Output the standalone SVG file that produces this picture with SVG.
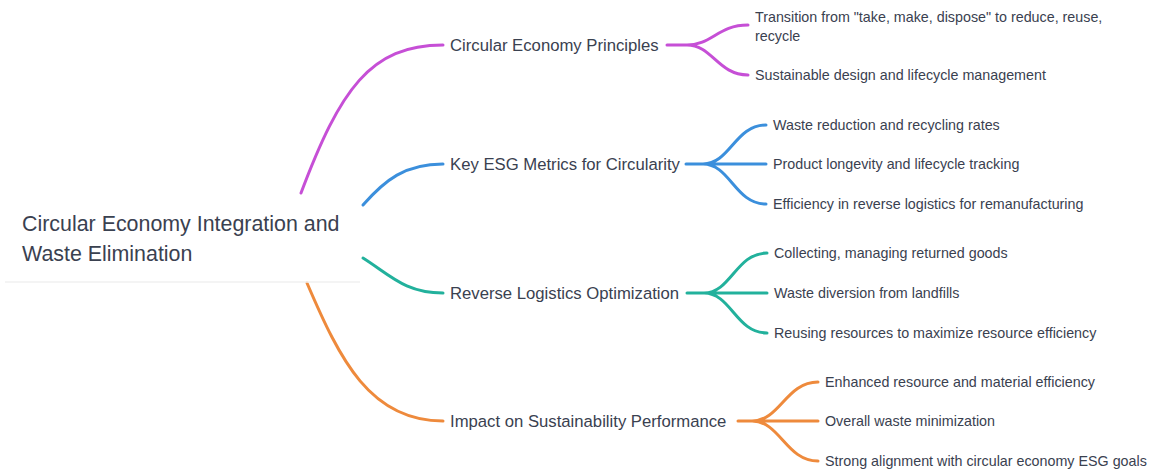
<svg xmlns="http://www.w3.org/2000/svg" width="1151" height="472" viewBox="0 0 1151 472">
<style>
.t{font-family:"Liberation Sans",Arial,sans-serif;fill:#3a4150}
.root{font-size:21.4px}
.br{font-size:16.7px}
.lf{font-size:14.3px}
.c{fill:none;stroke-width:3;stroke-linecap:round}
.p{stroke:#c64fd6}.b{stroke:#3b8fdc}.g{stroke:#22b19c}.o{stroke:#ee8a3c}
</style>
<rect width="1151" height="472" fill="#ffffff"/>
<g id="connectors">
<path class="c p" d="M301,193 C340,90 370,45 443,45"/>
<path class="c b" d="M363,205 C385,180 405,164 443,164"/>
<path class="c g" d="M363,258 C390,275 405,293 443,293"/>
<path class="c o" d="M307,283 C340,360 370,421 443,421"/>
<path class="c p" d="M667,45 L687,45 C712,45 718,25 748,25 M687,45 C712,45 718,75 748,75"/>
<path class="c b" d="M686,164 L703,164 C730,164 735,125 766,125 M703,164 L766,164 M703,164 C730,164 735,204 766,204"/>
<path class="c g" d="M687,293 L704,293 C731,293 736,253 767,253 M704,293 L767,293 M704,293 C731,293 736,333 767,333"/>
<path class="c o" d="M738,421 L752,421 C780,421 786,382 818,382 M752,421 L818,421 M752,421 C780,421 786,461 818,461"/>
</g>
<g id="root">
<line x1="5" y1="282" x2="360" y2="282" stroke="#f0f0f0" stroke-width="1.5"/>
<text class="t root" x="22" y="231">Circular Economy Integration and</text>
<text class="t root" x="22" y="261">Waste Elimination</text>
</g>
<g id="b1"><text class="t br" x="450" y="51">Circular Economy Principles</text></g>
<g id="b2"><text class="t br" x="450" y="170">Key ESG Metrics for Circularity</text></g>
<g id="b3"><text class="t br" x="450" y="299">Reverse Logistics Optimization</text></g>
<g id="b4"><text class="t br" x="450" y="427">Impact on Sustainability Performance</text></g>
<g id="l11"><text class="t lf" x="755" y="22">Transition from "take, make, dispose" to reduce, reuse,</text><text class="t lf" x="755" y="41">recycle</text></g>
<g id="l12"><text class="t lf" x="755" y="80">Sustainable design and lifecycle management</text></g>
<g id="l21"><text class="t lf" x="773" y="130">Waste reduction and recycling rates</text></g>
<g id="l22"><text class="t lf" x="773" y="169">Product longevity and lifecycle tracking</text></g>
<g id="l23"><text class="t lf" x="773" y="209">Efficiency in reverse logistics for remanufacturing</text></g>
<g id="l31"><text class="t lf" x="774" y="258">Collecting, managing returned goods</text></g>
<g id="l32"><text class="t lf" x="774" y="298">Waste diversion from landfills</text></g>
<g id="l33"><text class="t lf" x="774" y="338">Reusing resources to maximize resource efficiency</text></g>
<g id="l41"><text class="t lf" x="825" y="387">Enhanced resource and material efficiency</text></g>
<g id="l42"><text class="t lf" x="825" y="426">Overall waste minimization</text></g>
<g id="l43"><text class="t lf" x="825" y="466">Strong alignment with circular economy ESG goals</text></g>
</svg>
